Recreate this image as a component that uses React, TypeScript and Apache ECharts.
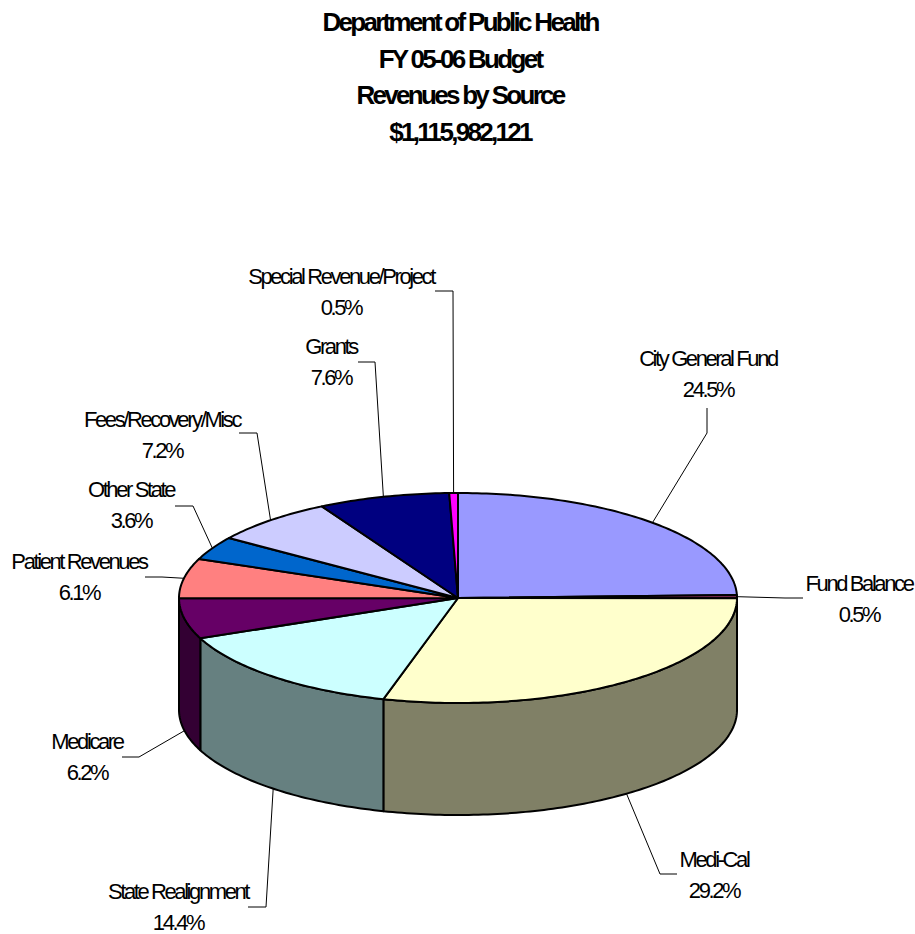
import React, { useEffect, useRef } from "react";
import * as echarts from "echarts";

const titleLines = ["Department of Public Health", "FY 05-06 Budget", "Revenues by Source", "$1,115,982,121"];
const categories = ["City General Fund", "Fund Balance", "Medi-Cal", "State Realignment", "Medicare", "Patient Revenues", "Other State", "Fees/Recovery/Misc", "Grants", "Special Revenue/Project"];
const shares = [24.5, 0.5, 29.2, 14.4, 6.2, 6.1, 3.6, 7.2, 7.6, 0.5];
const topColors = ["#9999FF", "#993366", "#FFFFCC", "#CCFFFF", "#660066", "#FF8080", "#0066CC", "#CCCCFF", "#000080", "#FF00FF"];
const sideColors = ["#4D4D80", "#4D1A33", "#808066", "#668080", "#330033", "#804040", "#003366", "#666680", "#000040", "#800080"];

// Layout of the pie
const CX = 458, CY = 598, RX = 279, RY = 105, DEPTH = 112;
// Layout of the labels: centre of the two-line label, and leader-line points from the pie outwards
const labelCentres: number[][] = [[708, 374], [859, 599], [714, 875], [178, 907], [87, 757], [79, 577], [131, 505], [162, 435], [331, 362], [341, 292]];
const leaderBends: number[][][] = [
  [[707, 433], [707, 408]],
  [[785, 598], [803, 598]],
  [[660, 874], [677, 874]],
  [[266, 907], [248, 907]],
  [[139, 757], [122, 757]],
  [[162, 577], [145, 577]],
  [[193, 506], [175, 506]],
  [[257, 433], [239, 433]],
  [[375, 362], [358, 362]],
  [[453, 291], [435, 291]],
];

const total = shares.reduce((a, b) => a + b, 0);
const starts: number[] = [];
shares.reduce((acc, v, i) => { starts[i] = acc; return acc + v; }, 0);
const toDeg = (v: number) => (v / total) * 360;
const pt = (deg: number, dy = 0): number[] => {
  const a = (deg * Math.PI) / 180;
  return [CX + RX * Math.sin(a), CY - RY * Math.cos(a) + dy];
};
const arc = (from: number, to: number, dy = 0): number[][] => {
  const out: number[][] = [];
  const n = Math.max(2, Math.ceil(to - from) + 1);
  for (let i = 0; i <= n; i++) out.push(pt(from + ((to - from) * i) / n, dy));
  return out;
};

export default function App() {
  const ref = useRef<HTMLDivElement>(null);
  useEffect(() => {
    const css = document.createElement("style");
    css.textContent = `
      body { margin: 0; }
      #chart svg text { letter-spacing: -2.4px; }
      #chart svg text[style*="bold"] { letter-spacing: -2.7px; }
    `;
    document.head.appendChild(css);
    const chart = echarts.init(ref.current!, undefined, { renderer: "svg" });
    const line = { stroke: "#000", lineWidth: 2, lineJoin: "round" as const };
    chart.setOption({
      animation: false,
      backgroundColor: "#fff",
      title: {
        text: titleLines.join("\n"),
        left: 455,
        top: -1,
        textAlign: "center",
        textStyle: { fontFamily: "Liberation Sans", fontSize: 26, fontWeight: "bold", color: "#000", lineHeight: 36.5 },
      },
      series: [
        {
          type: "custom",
          coordinateSystem: "none",
          silent: true,
          z: 1,
          data: shares,
          renderItem: (p: any) => {
            const i = p.dataIndex;
            const a = Math.max(toDeg(starts[i]), 90);
            const b = Math.min(toDeg(starts[i] + shares[i]), 270);
            if (b <= a) return { type: "group", children: [] };
            const pts = [...arc(a, b), ...arc(a, b, DEPTH).reverse()];
            return { type: "polygon", shape: { points: pts }, style: { fill: sideColors[i], ...line } };
          },
        },
        {
          type: "custom",
          coordinateSystem: "none",
          silent: true,
          z: 2,
          data: shares,
          renderItem: (p: any) => {
            const i = p.dataIndex;
            const a = toDeg(starts[i]);
            const b = toDeg(starts[i] + shares[i]);
            return { type: "polygon", shape: { points: [[CX, CY], ...arc(a, b)] }, style: { fill: topColors[i], ...line } };
          },
        },
        {
          type: "custom",
          coordinateSystem: "none",
          silent: true,
          z: 3,
          data: shares,
          renderItem: (p: any) => {
            const i = p.dataIndex;
            const mid = toDeg(starts[i] + shares[i] / 2);
            const visibleFront = mid > 90 && mid < 270;
            const from = pt(mid, visibleFront ? DEPTH : 0);
            const [cx, cy] = labelCentres[i];
            return {
              type: "group",
              children: [
                { type: "polyline", shape: { points: [from, ...leaderBends[i]] }, style: { fill: "none", stroke: "#000", lineWidth: 1 } },
                {
                  type: "text",
                  style: {
                    x: cx, y: cy,
                    text: `${categories[i]}\n${shares[i]}%`,
                    align: "center", verticalAlign: "middle",
                    fontFamily: "Liberation Sans", fontSize: 22, lineHeight: 30.5, fill: "#000",
                  },
                },
              ],
            };
          },
        },
      ],
    });
    return () => { chart.dispose(); css.remove(); };
  }, []);
  return <div id="chart" ref={ref} style={{ position: "absolute", left: 0, top: 0, width: 915, height: 934 }} />;
}
